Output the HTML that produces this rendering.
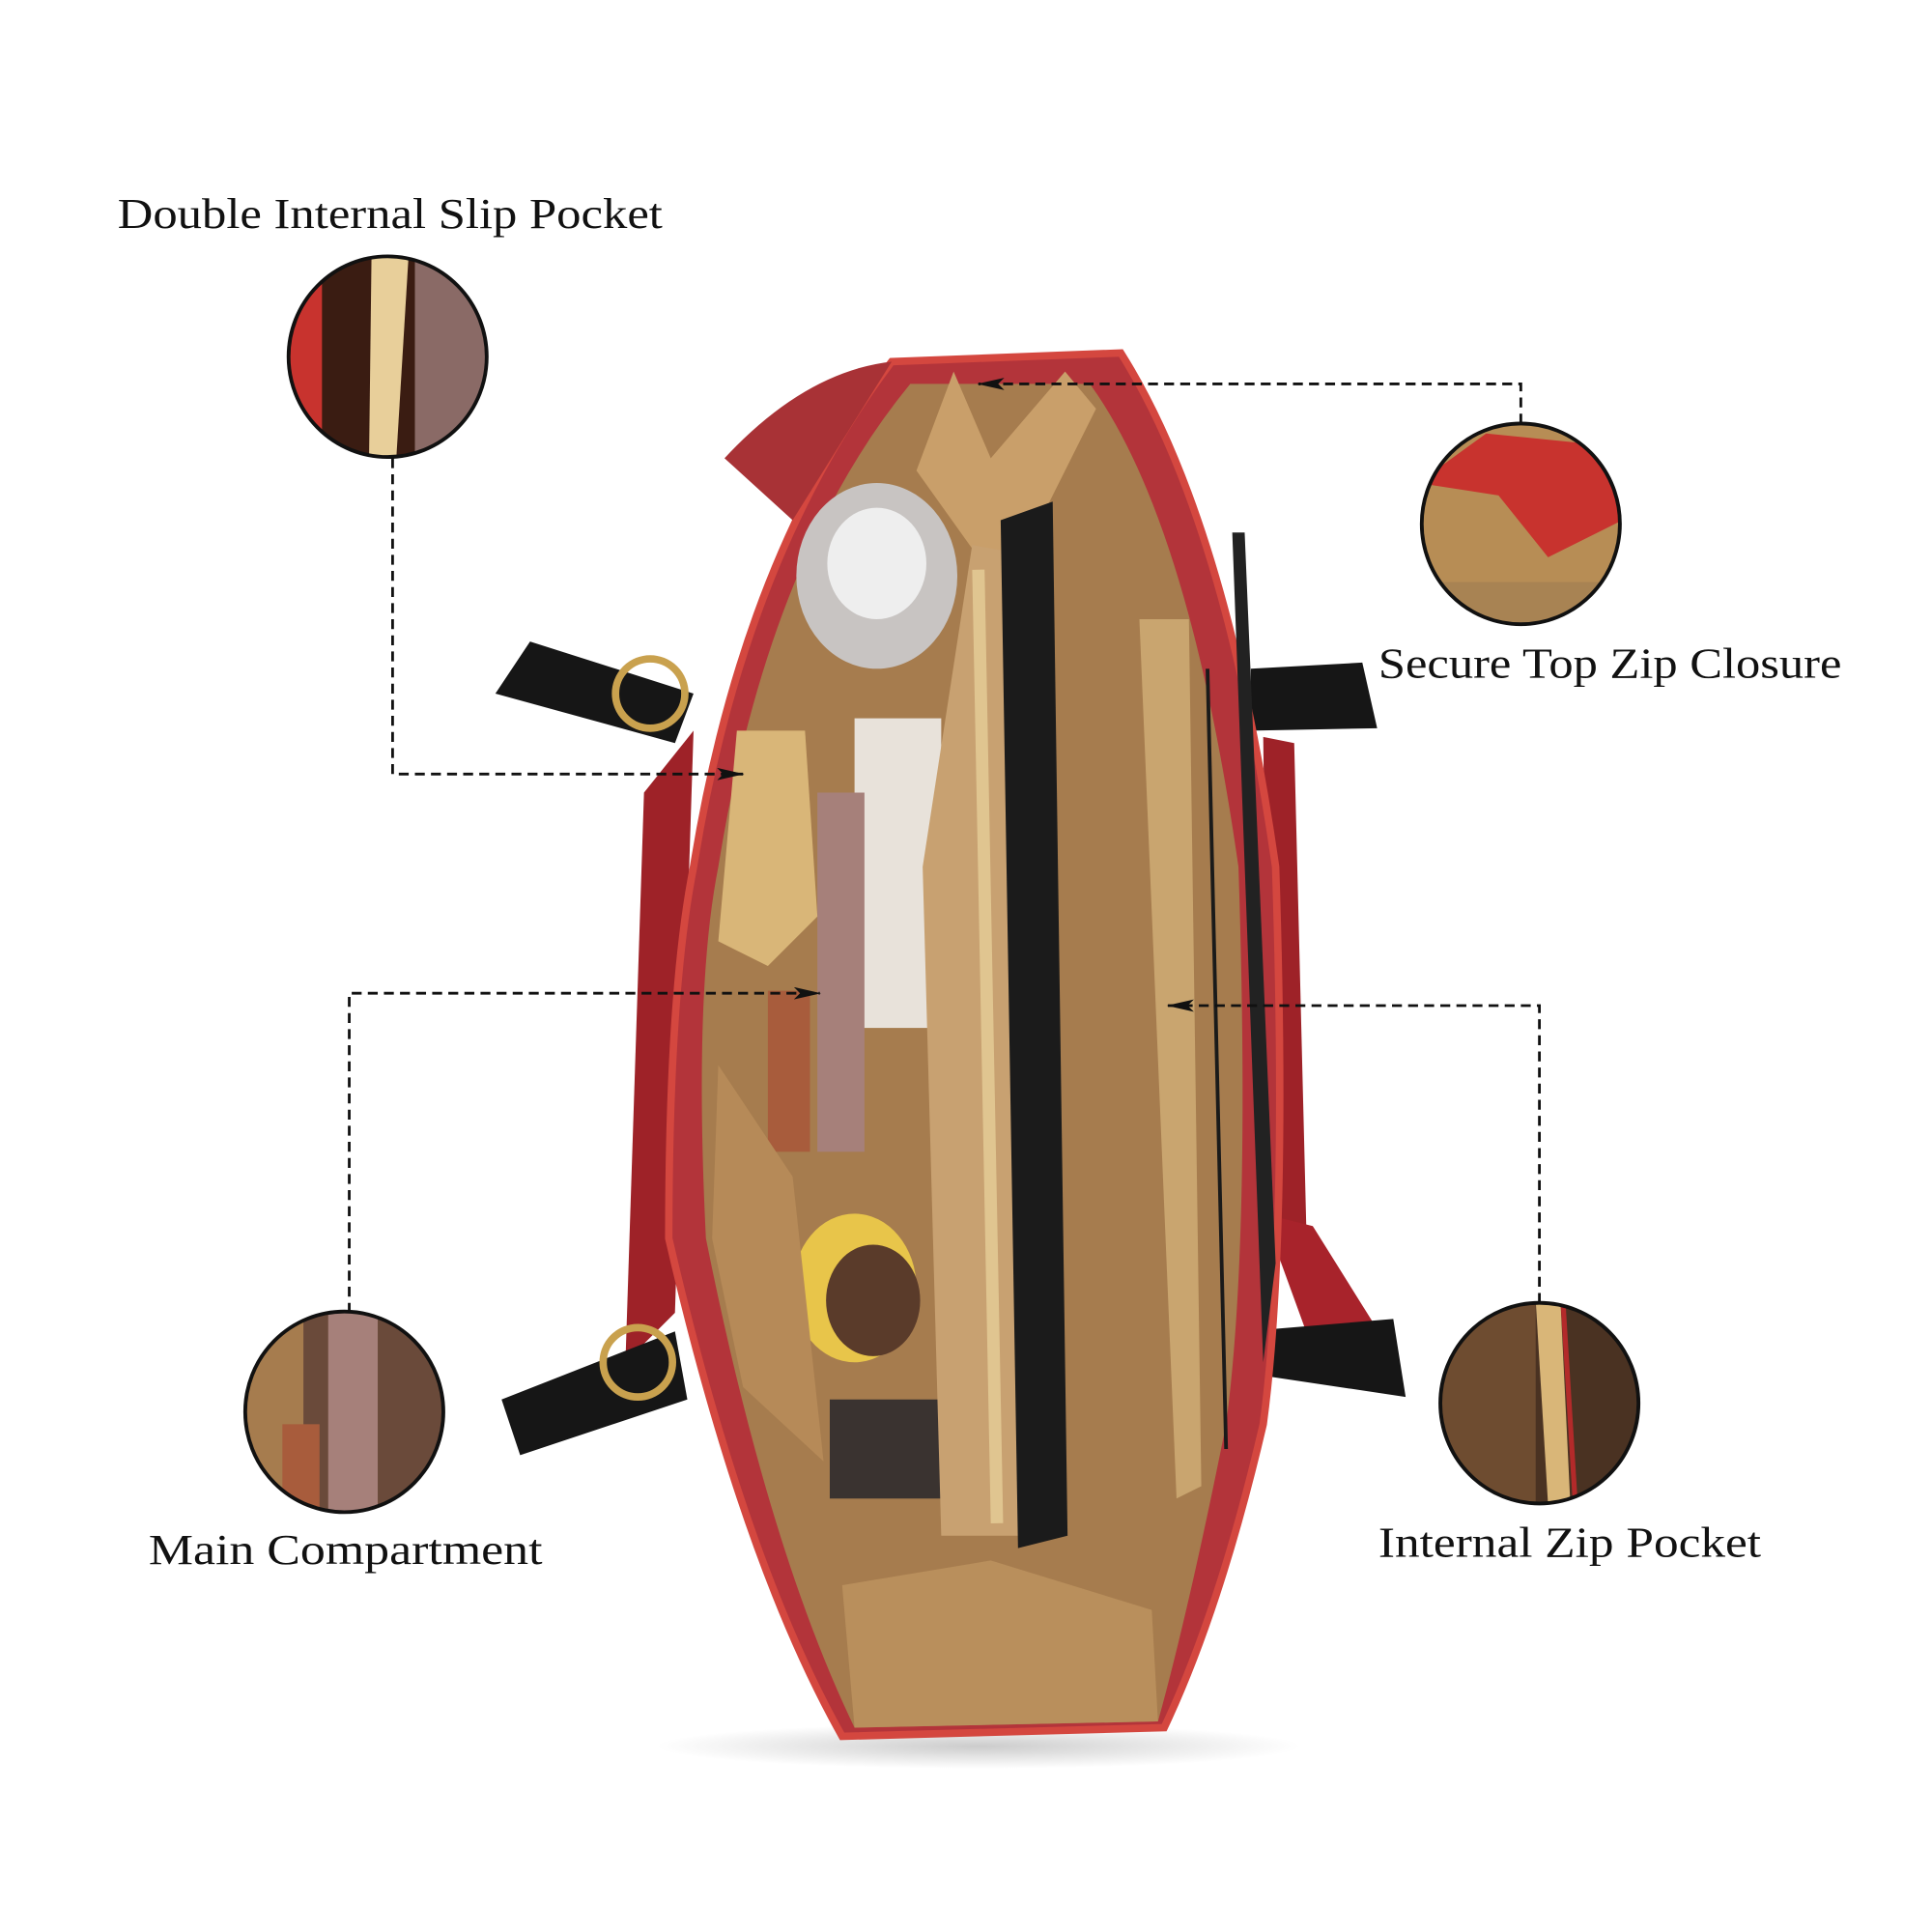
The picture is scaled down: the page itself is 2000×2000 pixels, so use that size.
<!DOCTYPE html>
<html><head><style>html,body{margin:0;padding:0;background:#fff}svg{display:block}</style></head>
<body>
<svg width="2000" height="2000" viewBox="0 0 1560 1560" xmlns="http://www.w3.org/2000/svg">
<defs>
<marker id="ar" markerWidth="22" markerHeight="10" refX="21" refY="5" orient="auto" markerUnits="userSpaceOnUse"><path d="M0,0 L22,5 L0,10 L5,5 z" fill="#111"/></marker>
<clipPath id="c1"><ellipse cx="313" cy="288" rx="80" ry="81"/></clipPath>
<clipPath id="c2"><ellipse cx="1228" cy="423" rx="80" ry="81"/></clipPath>
<clipPath id="c3"><ellipse cx="278" cy="1140" rx="80" ry="81"/></clipPath>
<clipPath id="c4"><ellipse cx="1243" cy="1133" rx="80" ry="81"/></clipPath>
<radialGradient id="sh" cx="0.5" cy="0.5" r="0.5"><stop offset="0" stop-color="#ccc"/><stop offset="1" stop-color="#fff"/></radialGradient>
</defs>
<ellipse cx="790" cy="1410" rx="260" ry="18" fill="url(#sh)"/>
<!-- handles -->
<path d="M520,640 L560,590 L545,1060 L505,1100 Z" fill="#9e2228"/>
<path d="M1020,595 L1045,600 L1055,1000 L1025,1000 Z" fill="#9e2228"/>
<path d="M1020,980 L1060,990 L1110,1070 L1060,1090 Z" fill="#a8232b"/>
<path d="M400,560 L428,518 L560,560 L545,600 Z" fill="#161616"/>
<path d="M405,1130 L420,1175 L555,1130 L545,1075 Z" fill="#161616"/>
<path d="M1010,540 L1100,535 L1112,588 L1010,590 Z" fill="#161616"/>
<path d="M1005,1075 L1125,1065 L1135,1128 L1015,1110 Z" fill="#161616"/>
<circle cx="525" cy="560" r="28" fill="none" stroke="#c9a14e" stroke-width="6"/>
<circle cx="515" cy="1100" r="28" fill="none" stroke="#c9a14e" stroke-width="6"/>
<!-- bag body -->
<path d="M720,292 L905,285 Q990,420 1030,700 Q1040,1000 1020,1150 Q985,1300 940,1395 L680,1402 Q600,1260 540,1000 Q540,800 560,700 Q600,450 720,292 Z" fill="#b3343a" stroke="#d4473f" stroke-width="6"/>
<path d="M585,370 Q650,300 720,292 L640,420 Z" fill="#a83236"/>
<!-- interior -->
<path d="M735,310 L880,310 Q960,420 1000,700 Q1010,1000 990,1150 Q960,1300 935,1390 L690,1395 Q620,1250 570,1000 Q560,800 580,700 Q620,450 735,310 Z" fill="#a67c4e"/>
<path d="M770,300 L800,370 L860,300 L885,330 L830,440 L790,450 L740,380 Z" fill="#c99f6a"/>
<path d="M680,1280 L800,1260 L930,1300 L935,1390 L690,1395 Z" fill="#b98f5c"/>
<!-- items -->
<ellipse cx="708" cy="465" rx="65" ry="75" fill="#c8c4c2"/>
<ellipse cx="708" cy="455" rx="40" ry="45" fill="#eeeeee"/>
<rect x="690" y="580" width="70" height="250" fill="#e8e2da"/>
<rect x="660" y="640" width="38" height="290" fill="#a6807a"/>
<rect x="620" y="800" width="34" height="130" fill="#a85c3c"/>
<path d="M595,590 L650,590 L660,740 L620,780 L580,760 Z" fill="#d9b678"/>
<ellipse cx="690" cy="1040" rx="50" ry="60" fill="#e8c54a"/>
<ellipse cx="705" cy="1050" rx="38" ry="45" fill="#5a3b2a"/>
<rect x="670" y="1130" width="100" height="80" fill="#3a3330"/>
<path d="M580,860 L640,950 L665,1180 L600,1120 L575,1000 Z" fill="#b68a58"/>
<!-- pocket zipper strip -->
<path d="M785,440 L812,445 L822,1240 L760,1240 L745,700 Z" fill="#c8a171"/>
<path d="M790,460 L805,1230" stroke="#e0c590" stroke-width="10"/>
<!-- laptop -->
<path d="M808,420 L850,405 L862,1240 L822,1250 Z" fill="#1b1b1b"/>
<!-- right zip pocket -->
<path d="M920,500 L960,500 L970,1200 L950,1210 Z" fill="#c9a56f"/>
<path d="M975,540 L990,1170" stroke="#1a1a1a" stroke-width="3"/>
<path d="M995,430 L1005,430 L1030,1020 L1020,1100 Z" fill="#222"/>
<!-- detail circles -->
<g clip-path="url(#c1)"><rect x="230" y="205" width="170" height="170" fill="#3a1c12"/><rect x="230" y="205" width="30" height="170" fill="#c8332e"/><path d="M300,205 L330,205 L320,370 L298,370 Z" fill="#e8cf9a"/><rect x="335" y="205" width="70" height="170" fill="#8a6a66"/></g>
<ellipse cx="313" cy="288" rx="80" ry="81" fill="none" stroke="#111" stroke-width="3"/>
<g clip-path="url(#c2)"><rect x="1145" y="340" width="170" height="170" fill="#b78d55"/><path d="M1145,390 L1200,350 L1300,360 L1310,420 L1250,450 L1210,400 Z" fill="#c8332e"/><rect x="1145" y="470" width="170" height="40" fill="#a88353"/></g>
<ellipse cx="1228" cy="423" rx="80" ry="81" fill="none" stroke="#111" stroke-width="3"/>
<g clip-path="url(#c3)"><rect x="195" y="1055" width="170" height="170" fill="#6a4a3a"/><rect x="195" y="1055" width="50" height="170" fill="#a67c4e"/><rect x="265" y="1060" width="40" height="165" fill="#a6807a"/><rect x="228" y="1150" width="30" height="75" fill="#a85c3c"/></g>
<ellipse cx="278" cy="1140" rx="80" ry="81" fill="none" stroke="#111" stroke-width="3"/>
<g clip-path="url(#c4)"><rect x="1160" y="1050" width="170" height="170" fill="#4a3222"/><rect x="1160" y="1050" width="80" height="170" fill="#6e4c30"/><path d="M1240,1050 L1260,1050 L1268,1215 L1250,1215 Z" fill="#d9b678"/><path d="M1262,1050 L1272,1215" stroke="#b32a2a" stroke-width="4"/></g>
<ellipse cx="1243" cy="1133" rx="80" ry="81" fill="none" stroke="#111" stroke-width="3"/>
<!-- connectors -->
<g fill="none" stroke="#111" stroke-width="2.2" stroke-dasharray="8,5">
<path d="M317,370 L317,625 L600,625" marker-end="url(#ar)"/>
<path d="M1228,342 L1228,310 L790,310" marker-end="url(#ar)"/>
<path d="M282,1060 L282,802 L662,802" marker-end="url(#ar)"/>
<path d="M1243,1052 L1243,812 L943,812" marker-end="url(#ar)"/>
</g>
<!-- labels -->
<g font-family="'Liberation Serif', serif" font-size="35" fill="#111">
<text x="95" y="184" textLength="440" lengthAdjust="spacingAndGlyphs">Double Internal Slip Pocket</text>
<text x="1113" y="547" textLength="374" lengthAdjust="spacingAndGlyphs">Secure Top Zip Closure</text>
<text x="120" y="1263" textLength="318" lengthAdjust="spacingAndGlyphs">Main Compartment</text>
<text x="1113" y="1257" textLength="309" lengthAdjust="spacingAndGlyphs">Internal Zip Pocket</text>
</g>
</svg>
</body></html>
